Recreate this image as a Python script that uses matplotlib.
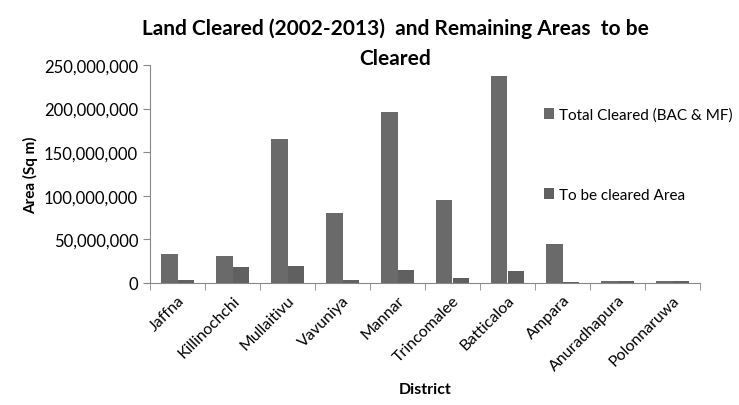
import numpy as np
import matplotlib.pyplot as plt
from matplotlib.ticker import FuncFormatter

districts = ["Jaffna", "Killinochchi", "Mullaitivu", "Vavuniya", "Mannar",
             "Trincomalee", "Batticaloa", "Ampara", "Anuradhapura", "Polonnaruwa"]
totalCleared = [33e6, 31e6, 165e6, 80e6, 196e6, 95e6, 237e6, 45e6, 2e6, 2e6]
toBeCleared = [4e6, 18e6, 20e6, 4e6, 15e6, 6e6, 13.5e6, 1.5e6, 2e6, 2e6]
seriesNames = ["Total Cleared (BAC & MF)", "To be cleared Area"]

def main():
    plt.rcParams['font.family'] = ['Lato', 'DejaVu Sans']
    fig = plt.figure(figsize=(7.39, 4.06), dpi=100)
    ax = fig.add_axes([150/739, 1 - 284/406, 550/739, (284 - 66)/406])

    x = np.arange(len(districts))
    width = 0.3
    b1 = ax.bar(x - width/2, totalCleared, width, color="#6a6a6a", label=seriesNames[0])
    b2 = ax.bar(x + width/2, toBeCleared, width, color="#606060", label=seriesNames[1])

    ax.set_xlim(-0.5, len(districts) - 0.5)
    ax.set_ylim(0, 250e6)
    ax.set_yticks(np.arange(0, 250e6 + 1, 50e6))
    ax.yaxis.set_major_formatter(FuncFormatter(lambda v, p: f"{int(v):,}"))
    ax.set_xticks(x)
    ax.set_xticklabels(districts, rotation=45, ha="right", rotation_mode="anchor", fontsize=11.5)
    ax.set_xticks(np.arange(-0.5, len(districts)), minor=True)
    ax.tick_params(axis="x", which="major", length=0, pad=7)
    ax.tick_params(axis="x", which="minor", length=5, color="#888888")
    ax.tick_params(axis="y", length=5, color="#888888", labelsize=12)

    for s in ["top", "right"]:
        ax.spines[s].set_visible(False)
    for s in ["left", "bottom"]:
        ax.spines[s].set_color("#888888")

    ax.set_ylabel("Area (Sq m)", fontsize=11, fontweight="bold")
    ax.set_xlabel("District", fontsize=11.5, fontweight="bold", labelpad=6)

    fig.text(0.535, 1 - 44/406, "Land Cleared (2002-2013)  and Remaining Areas  to be\nCleared",
             ha="center", va="center", fontsize=15, fontweight="bold", linespacing=1.6)

    fig.legend(handles=[b1, b2], loc="upper left", bbox_to_anchor=(530/739, 1 - 95/406),
               frameon=False, fontsize=11, labelspacing=4.3, handlelength=0.7,
               handleheight=0.7, handletextpad=0.3)

    plt.savefig("out.png", dpi=100)

if __name__ == "__main__":
    main()
